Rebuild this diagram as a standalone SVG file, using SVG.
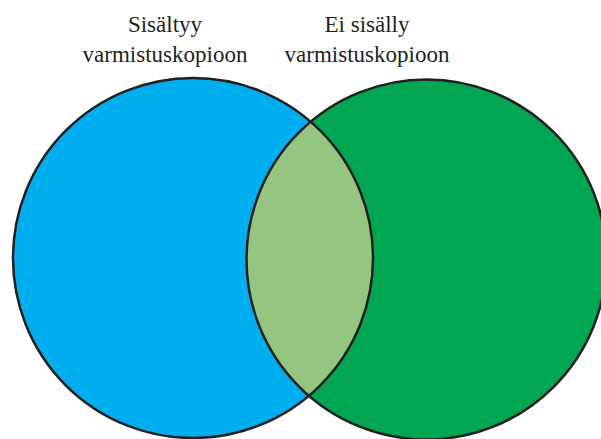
<svg xmlns="http://www.w3.org/2000/svg" width="601" height="439" viewBox="0 0 601 439">
<style>
.lbl{font-family:"Liberation Serif","Times New Roman",serif;font-size:23px;fill:#231f20;text-anchor:middle}
.ring{fill:none;stroke:#231f20;stroke-width:2.5}
</style>
<defs>
<clipPath id="clipBlue"><circle cx="193" cy="258" r="180"/></clipPath>
</defs>
<rect width="601" height="439" fill="#ffffff"/>
<g id="set-included">
<circle cx="193" cy="258" r="180" fill="#00aeef"/>
</g>
<g id="set-excluded">
<circle cx="426.5" cy="259.5" r="180" fill="#00a651"/>
</g>
<g id="intersection">
<circle cx="426.5" cy="259.5" r="180" fill="#95c680" clip-path="url(#clipBlue)"/>
</g>
<g id="outlines">
<circle class="ring" cx="193" cy="258" r="180"/>
<circle class="ring" cx="426.5" cy="259.5" r="180"/>
</g>
<g id="labels">
<text class="lbl" x="165" y="32">Sisältyy</text>
<text class="lbl" x="165" y="62">varmistuskopioon</text>
<text class="lbl" x="367" y="32">Ei sisälly</text>
<text class="lbl" x="367" y="62">varmistuskopioon</text>
</g>
</svg>
